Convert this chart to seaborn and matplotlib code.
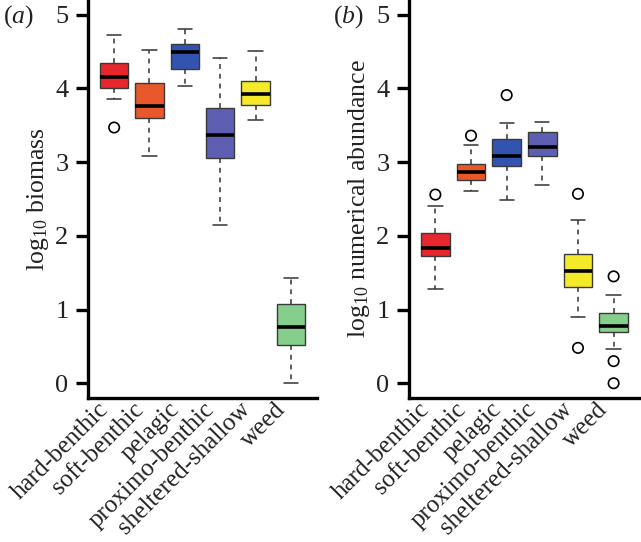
import numpy as np
import pandas as pd
import matplotlib
matplotlib.use("Agg")
import matplotlib.pyplot as plt
import matplotlib.transforms as mtrans
import seaborn as sns

# ---------------- data ----------------
categories = ["hard-benthic", "soft-benthic", "pelagic", "proximo-benthic",
              "sheltered-shallow", "weed"]
colors = ["#E8262E", "#E8582A", "#3353B0", "#5E5EB2", "#F4EA2A", "#86CE8C"]

# panel (a): log10 biomass
a_whislo = [3.86, 3.08, 4.03, 2.15, 3.57, 0.00]
a_q1     = [4.00, 3.60, 4.26, 3.05, 3.77, 0.52]
a_med    = [4.15, 3.76, 4.50, 3.37, 3.93, 0.77]
a_q3     = [4.35, 4.07, 4.60, 3.74, 4.10, 1.07]
a_whishi = [4.72, 4.52, 4.80, 4.41, 4.51, 1.43]
a_out_cat = ["hard-benthic"]
a_out_val = [3.47]

# panel (b): log10 numerical abundance
b_whislo = [1.28, 2.61, 2.49, 2.69, 0.90, 0.47]
b_q1     = [1.72, 2.76, 2.95, 3.08, 1.30, 0.69]
b_med    = [1.84, 2.87, 3.08, 3.21, 1.52, 0.78]
b_q3     = [2.04, 2.98, 3.32, 3.41, 1.76, 0.96]
b_whishi = [2.40, 3.23, 3.53, 3.55, 2.22, 1.20]
b_out_cat = ["hard-benthic", "soft-benthic", "pelagic", "sheltered-shallow",
             "sheltered-shallow", "weed", "weed", "weed"]
b_out_val = [2.56, 3.36, 3.91, 2.57, 0.48, 1.45, 0.30, 0.00]

yticks = [0, 1, 2, 3, 4, 5]


def five_number_frame(lo, q1, med, q3, hi):
    rows = []
    for c, vals in zip(categories, zip(lo, q1, med, q3, hi)):
        for v in vals:
            rows.append({"group": c, "value": v})
    return pd.DataFrame(rows)


sns.set_theme(style="white")
plt.rcParams["font.family"] = ["Liberation Serif", "DejaVu Serif"]
plt.rcParams["mathtext.fontset"] = "custom"
plt.rcParams["mathtext.rm"] = "Liberation Serif"
plt.rcParams["mathtext.it"] = "Liberation Serif:italic"

fig = plt.figure(figsize=(6.41, 5.42), dpi=100)
W, H = 641.0, 542.0
ax1 = fig.add_axes([88 / W, 1 - 398 / H, (317 - 88) / W, 398 / H])
ax2 = fig.add_axes([409 / W, 1 - 398 / H, (640 - 409) / W, 398 / H])

panels = [
    (ax1, five_number_frame(a_whislo, a_q1, a_med, a_q3, a_whishi),
     pd.DataFrame({"group": a_out_cat, "value": a_out_val}),
     r"log$_{10}$ biomass"),
    (ax2, five_number_frame(b_whislo, b_q1, b_med, b_q3, b_whishi),
     pd.DataFrame({"group": b_out_cat, "value": b_out_val}),
     r"log$_{10}$ numerical abundance"),
]

pal = dict(zip(categories, colors))

for ax, df, outdf, ylabel in panels:
    sns.boxplot(data=df, x="group", y="value", hue="group", order=categories,
                hue_order=categories, palette=pal, saturation=1, width=0.8,
                whis=(0, 100), legend=False, ax=ax, linecolor="#3a3a3a",
                linewidth=1.0, showfliers=False, capwidths=0.4,
                medianprops={"color": "black", "linewidth": 2.6},
                whiskerprops={"color": "#333333", "linewidth": 1.1,
                              "linestyle": (0, (3.2, 3.2))},
                capprops={"color": "#333333", "linewidth": 1.1})
    n_before = len(ax.collections)
    sns.stripplot(data=outdf, x="group", y="value", order=categories,
                  jitter=False, color="black", facecolors="none",
                  edgecolor="black", linewidth=1.2, size=7.5, ax=ax,
                  zorder=5)
    for coll in ax.collections[n_before:]:
        coll.set_facecolor("none")
        coll.set_edgecolor("black")

    ax.set_xlim(-0.74, 5.74)
    ax.set_ylim(-0.2, 5.2)
    ax.set_yticks(yticks)
    ax.set_yticklabels([str(t) for t in yticks])
    ax.set_xlabel("")
    ax.set_ylabel(ylabel, fontsize=18.5, labelpad=3, color="#222222")
    sns.despine(ax=ax)
    for s in ["left", "bottom"]:
        ax.spines[s].set_linewidth(2.4)
        ax.spines[s].set_color("black")
    ax.tick_params(axis="y", which="major", length=9, width=2.4,
                   labelsize=19, pad=5, color="black", left=True,
                   labelcolor="#222222")
    ax.tick_params(axis="x", length=0, pad=0)
    ax.set_xticks(range(len(categories)))
    ax.set_xticklabels(categories, rotation=45, ha="right", va="center",
                       rotation_mode="anchor", fontsize=18, color="#222222")
    off = mtrans.ScaledTranslation(-9 / 100, -8 / 100, fig.dpi_scale_trans)
    for lab in ax.get_xticklabels():
        lab.set_transform(lab.get_transform() + off)
    ax.set_facecolor("white")

fig.text(3 / W, 1 - 17 / H, r"($a$)", fontsize=18.5, va="center", ha="left",
         color="#222222")
fig.text(333 / W, 1 - 17 / H, r"($b$)", fontsize=18.5, va="center", ha="left",
         color="#222222")

fig.savefig("out.png", dpi=100, facecolor="white")
